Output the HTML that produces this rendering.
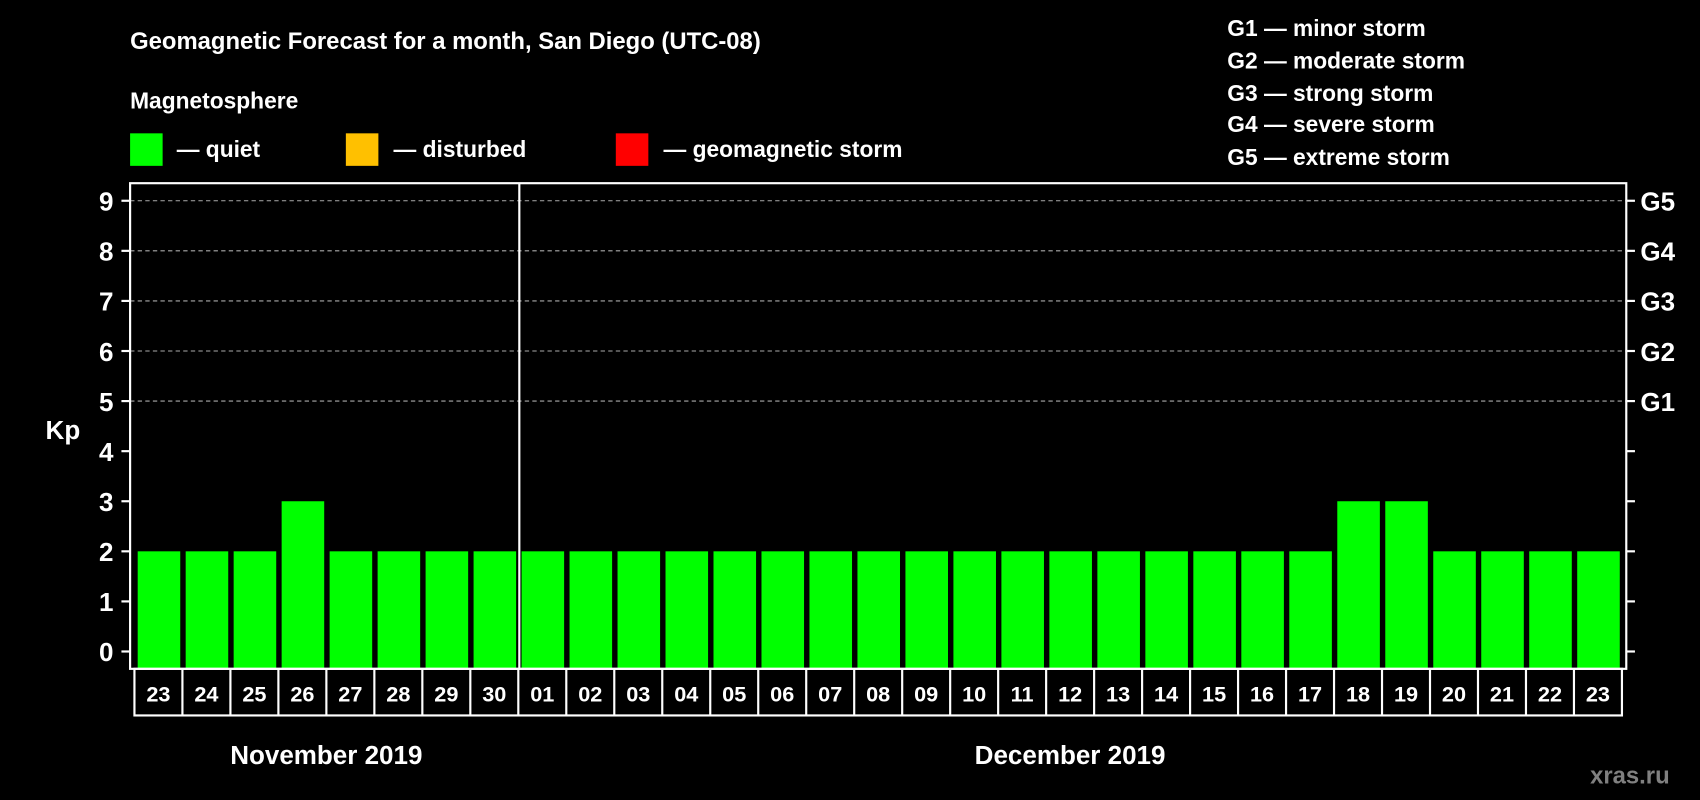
<!DOCTYPE html>
<html><head><meta charset="utf-8"><style>
html,body{margin:0;padding:0;background:#000;}
svg{display:block;}
text{font-family:"Liberation Sans",Arial,sans-serif;font-weight:bold;fill:#fff;}
</style></head><body>
<svg id="chart" width="1700" height="800" viewBox="0 0 1568 738" preserveAspectRatio="none" xmlns="http://www.w3.org/2000/svg">
<rect width="1568" height="738" fill="#000"/>
<text x="120" y="45" font-size="22">Geomagnetic Forecast for a month, San Diego (UTC-08)</text>
<text x="120" y="100" font-size="21">Magnetosphere</text>
<rect x="120" y="123" width="30" height="30" fill="#00ff00"/>
<text x="163" y="145" font-size="21">— quiet</text>
<rect x="319" y="123" width="30" height="30" fill="#ffc000"/>
<text x="363" y="145" font-size="21">— disturbed</text>
<rect x="568" y="123" width="30" height="30" fill="#ff0000"/>
<text x="612" y="145" font-size="21">— geomagnetic storm</text>
<g font-size="21">
<text x="1132" y="33">G1 — minor storm</text>
<text x="1132" y="63">G2 — moderate storm</text>
<text x="1132" y="93">G3 — strong storm</text>
<text x="1132" y="122">G4 — severe storm</text>
<text x="1132" y="152">G5 — extreme storm</text>
</g>
<text x="58" y="405" font-size="24" text-anchor="middle">Kp</text>
<g id="grid"></g>
<g id="bars"></g>
<rect x="120" y="169" width="1380" height="448" fill="none" stroke="#fff" stroke-width="2"/>
<line x1="479" y1="169" x2="479" y2="617" stroke="#fff" stroke-width="2"/>
<g id="labels"></g>
<text x="301" y="705" font-size="24" text-anchor="middle">November 2019</text>
<text x="987" y="705" font-size="24" text-anchor="middle">December 2019</text>
<text x="1540" y="723" font-size="22" text-anchor="end" style="fill:#808080">xras.ru</text>
</svg>
<script>
const days = ["23","24","25","26","27","28","29","30","01","02","03","04","05","06","07","08","09","10","11","12","13","14","15","16","17","18","19","20","21","22","23"];
const kp = [2,2,2,3,2,2,2,2,2,2,2,2,2,2,2,2,2,2,2,2,2,2,2,2,2,3,3,2,2,2,2];
const yTicks = ["0","1","2","3","4","5","6","7","8","9"];
const gLabels = ["G1","G2","G3","G4","G5"];
const NS="http://www.w3.org/2000/svg";
const y0=601, unit=46.2, frameBottom=617, cellX0=124, pitch=(1496-124)/31;
function yScale(v){return y0-v*unit;}
function xCell(i){return cellX0+i*pitch;}
function mk(t,a,p){const e=document.createElementNS(NS,t);for(const k in a)e.setAttribute(k,a[k]);p.appendChild(e);return e;}
const grid=document.getElementById('grid');
yTicks.forEach((t,i)=>{
  const v=+t, y=yScale(v);
  if(v>=5){const l=mk('line',{x1:120,y1:y,x2:1500,y2:y,stroke:'#aaa','stroke-width':1,'stroke-dasharray':'4,3'},grid);
    
    }
  const tl=mk('line',{x1:112,y1:y,x2:120,y2:y,stroke:'#fff','stroke-width':2},grid);
  
  
  const tr=mk('line',{x1:1500,y1:y,x2:1508,y2:y,stroke:'#fff','stroke-width':2},grid);
  
  
  const tx=mk('text',{x:98,y:y+9,'font-size':24,'text-anchor':'middle'},grid);
  tx.textContent=t;
  
  
});
gLabels.forEach((g,i)=>{
  const y=yScale(5+i);
  const tx=mk('text',{x:1513,y:y+9,'font-size':24},grid);
  tx.textContent=g;
  
  
});
const bars=document.getElementById('bars');
kp.forEach((v,i)=>{
  const col=v>=5?'#ff0000':(v>=4?'#ffc000':'#00ff00');
  const top=yScale(v);
  const r=mk('rect',{x:xCell(i)+3,y:top,width:pitch-5,height:frameBottom-top,fill:col},bars);
  
  
});
const labels=document.getElementById('labels');
const box=mk('rect',{x:cellX0,y:617,width:pitch*31,height:43,fill:'none',stroke:'#fff','stroke-width':2},labels);


days.forEach((d,i)=>{
  if(i>0){const l=mk('line',{x1:xCell(i),y1:617,x2:xCell(i),y2:660,stroke:'#fff','stroke-width':2},labels);
    
    }
  const t=mk('text',{x:xCell(i)+pitch/2,y:647,'font-size':20,'text-anchor':'middle'},labels);
  t.textContent=d;
  
  
});
</script>
</body></html>
